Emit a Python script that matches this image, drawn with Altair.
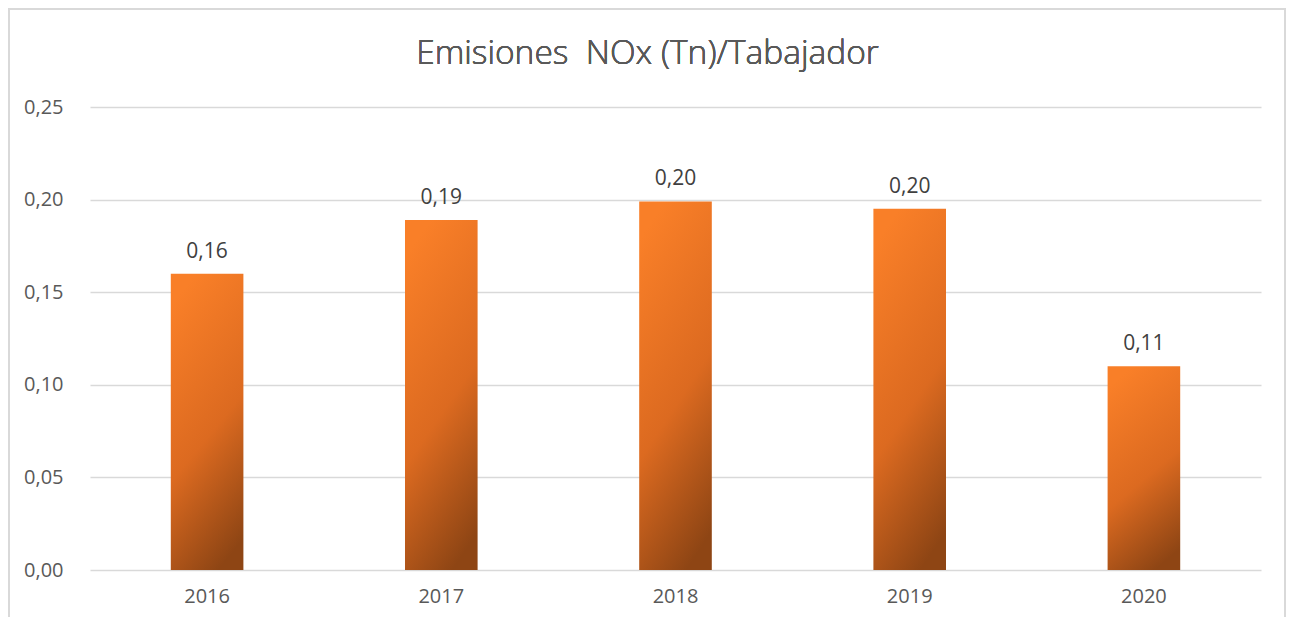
import altair as alt
import pandas as pd

years = ["2016", "2017", "2018", "2019", "2020"]
values = [0.160, 0.189, 0.199, 0.195, 0.110]
title_text = "Emisiones\u00a0\u00a0NOx (Tn)/Tabajador"

df = pd.DataFrame({"year": years, "value": values})

FONT = "Open Sans"
TXT = "#595959"

W, H = 1171, 463
PL, PT, PR, PB = 82, 99, 26, 47

gradient = alt.Gradient(
    gradient="linear",
    x1=0.35, y1=0, x2=0.65, y2=1,
    stops=[
        alt.GradientStop(color="#F97F28", offset=0),
        alt.GradientStop(color="#DC6A20", offset=0.55),
        alt.GradientStop(color="#8E4514", offset=1),
    ],
)

base = alt.Chart(df)

x_enc = alt.X(
    "year:N",
    sort=years,
    scale=alt.Scale(paddingInner=0.69, paddingOuter=0.345),
    axis=alt.Axis(
        title=None, labelAngle=0, domain=False, ticks=False,
        labelFont=FONT, labelFontSize=20, labelFontWeight=400, labelColor=TXT,
        labelPadding=16, grid=False,
    ),
)
y_enc = alt.Y(
    "value:Q",
    scale=alt.Scale(domain=[0, 0.25], nice=False),
    axis=alt.Axis(
        title=None, values=[0, 0.05, 0.10, 0.15, 0.20, 0.25],
        labelExpr="replace(format(datum.value, '.2f'), '.', ',')",
        domain=False, ticks=False, grid=True, gridColor="#D9D9D9", gridWidth=1.3,
        labelFont=FONT, labelFontSize=20, labelFontWeight=400, labelColor=TXT,
        labelPadding=27,
    ),
)

bars = base.mark_bar(color=gradient).encode(x=x_enc, y=y_enc)

labels = base.transform_calculate(
    lab="replace(format(datum.value, '.2f'), '.', ',')"
).mark_text(
    baseline="bottom", dy=-12, font=FONT, fontSize=21, fontWeight=400, color="#404040"
).encode(x=alt.X("year:N", sort=years), y="value:Q", text="lab:N")

title = alt.Chart(df).mark_text(
    font=FONT, fontSize=33.5, fontWeight=300, color=TXT, baseline="middle", align="center"
).encode(
    x=alt.value(W / 2 - 28),
    y=alt.value(-53),
    text=alt.value(title_text),
)

border = alt.Chart(df).mark_rect(
    fill=None, stroke="#D9D9D9", strokeWidth=1.5, clip=False
).encode(
    x=alt.value(-PL + 1),
    x2=alt.value(W + PR - 2),
    y=alt.value(-PT + 1),
    y2=alt.value(H + PB + 40),
)

chart = alt.layer(border, bars, labels, title).properties(
    width=W, height=H,
    padding={"left": PL, "top": PT, "right": PR, "bottom": PB},
    autosize=alt.AutoSizeParams(type="none"),
).configure_view(stroke=None)

chart.save("out.html", embed_options={"renderer": "svg", "actions": False})
